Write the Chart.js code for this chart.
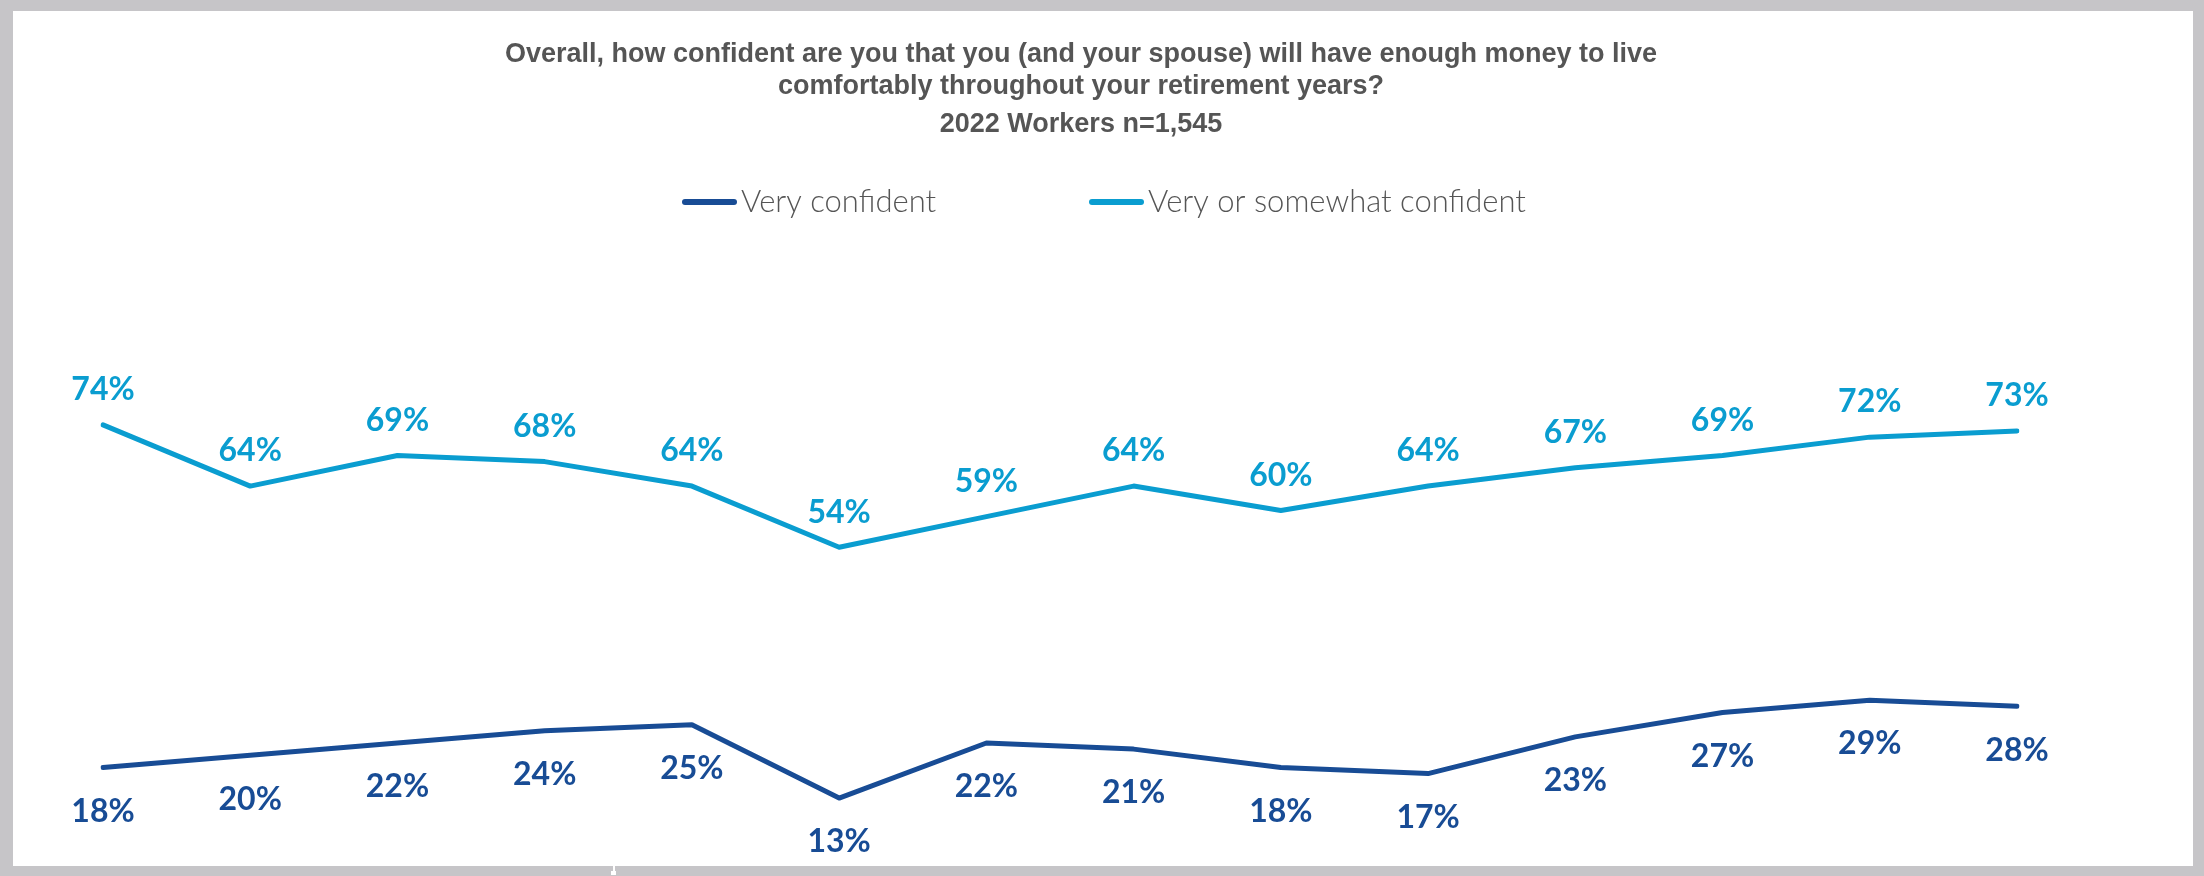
<!DOCTYPE html>
<html>
<head>
<meta charset="utf-8">
<script src="https://cdn.jsdelivr.net/npm/chart.js@4/dist/chart.umd.min.js"></script>
<style>
  html, body { margin: 0; padding: 0; }
  body { width: 2204px; height: 876px; background: #c6c5c8; position: relative; overflow: hidden; }
  #panel { position: absolute; left: 13px; top: 11px; width: 2180px; height: 855px; background: #ffffff; }
  #mark1 { position: absolute; left: 613px; top: 866px; width: 2px; height: 6px; background: #ffffff; }
  #mark2 { position: absolute; left: 611px; top: 871px; width: 5px; height: 4px; background: #ffffff; }
</style>
</head>
<body>
<div id="panel"><canvas id="chart"></canvas></div>
<div id="mark1"></div><div id="mark2"></div>
<script>
// Survey waves, oldest to newest (the axis itself is not shown)
const waves = ['1', '2', '3', '4', '5', '6', '7', '8', '9', '10', '11', '12', '13', '14'];

// Share of workers, in percent
const veryConfident = [18, 20, 22, 24, 25, 13, 22, 21, 18, 17, 23, 27, 29, 28];
const veryOrSomewhatConfident = [74, 64, 69, 68, 64, 54, 59, 64, 60, 64, 67, 69, 72, 73];

const seriesNames = ['Very confident', 'Very or somewhat confident'];
const titleLines = [
  'Overall, how confident are you that you (and your spouse) will have enough money to live',
  'comfortably throughout your retirement years?'
];
const subtitleText = '2022 Workers n=1,545';

const darkBlue = '#184c95';
const lightBlue = '#0a9dd0';
const textGray = '#555555';

// Percent labels above/below each point
const valueLabels = {
  id: 'valueLabels',
  afterDatasetsDraw(chart) {
    const ctx = chart.ctx;
    ctx.save();
    ctx.font = 'bold 32px Lato, "Open Sans", sans-serif';
    ctx.textAlign = 'center';
    ctx.textBaseline = 'middle';
    chart.data.datasets.forEach((ds, i) => {
      const meta = chart.getDatasetMeta(i);
      ctx.fillStyle = ds.borderColor;
      meta.data.forEach((pt, j) => {
        ctx.fillText(ds.data[j] + '%', pt.x, pt.y + ds.labelOffset);
      });
    });
    ctx.restore();
  }
};

// Line-swatch legend in the gap under the heading
const lineLegend = {
  id: 'lineLegend',
  afterDraw(chart) {
    const ctx = chart.ctx;
    const y = 191;
    const starts = [669, 1076];
    ctx.save();
    ctx.font = '300 31px Lato, "Open Sans", sans-serif';
    ctx.textBaseline = 'middle';
    ctx.textAlign = 'left';
    chart.data.datasets.forEach((ds, i) => {
      const x = starts[i];
      ctx.strokeStyle = ds.borderColor;
      ctx.lineWidth = 6;
      ctx.lineCap = 'round';
      ctx.beginPath();
      ctx.moveTo(x + 3, y);
      ctx.lineTo(x + 52, y);
      ctx.stroke();
      ctx.fillStyle = textGray;
      ctx.fillText(ds.label, x + 59, y);
    });
    ctx.restore();
  }
};

const headingFont = { family: '"Liberation Sans", Arial, sans-serif', size: 27, weight: 'bold', lineHeight: 1.2 };

new Chart(document.getElementById('chart'), {
  type: 'line',
  data: {
    labels: waves,
    datasets: [
      {
        label: seriesNames[0],
        data: veryConfident,
        borderColor: darkBlue,
        backgroundColor: darkBlue,
        borderWidth: 5,
        pointRadius: 0,
        tension: 0,
        borderCapStyle: 'round',
        borderJoinStyle: 'round',
        labelOffset: 44
      },
      {
        label: seriesNames[1],
        data: veryOrSomewhatConfident,
        borderColor: lightBlue,
        backgroundColor: lightBlue,
        borderWidth: 5,
        pointRadius: 0,
        tension: 0,
        borderCapStyle: 'round',
        borderJoinStyle: 'round',
        labelOffset: -35
      }
    ]
  },
  options: {
    responsive: true,
    maintainAspectRatio: false,
    animation: false,
    layout: { padding: { top: 0, left: 0, right: 44, bottom: 19 } },
    scales: {
      x: { display: false },
      y: {
        min: 5,
        max: 80,
        position: 'left',
        grid: { display: false },
        border: { display: false },
        ticks: { display: false },
        afterFit(scale) { scale.width = 90; }
      },
      yRight: {
        position: 'right',
        grid: { display: false },
        border: { display: false },
        ticks: { display: false },
        afterFit(scale) { scale.width = 132; }
      }
    },
    plugins: {
      legend: { display: false },
      tooltip: { enabled: false },
      title: {
        display: true,
        text: titleLines,
        color: textGray,
        font: headingFont,
        padding: { top: 27, bottom: 0 }
      },
      subtitle: {
        display: true,
        text: subtitleText,
        color: textGray,
        font: headingFont,
        padding: { top: 6, bottom: 247 }
      }
    }
  },
  plugins: [valueLabels, lineLegend]
});
</script>
</body>
</html>
